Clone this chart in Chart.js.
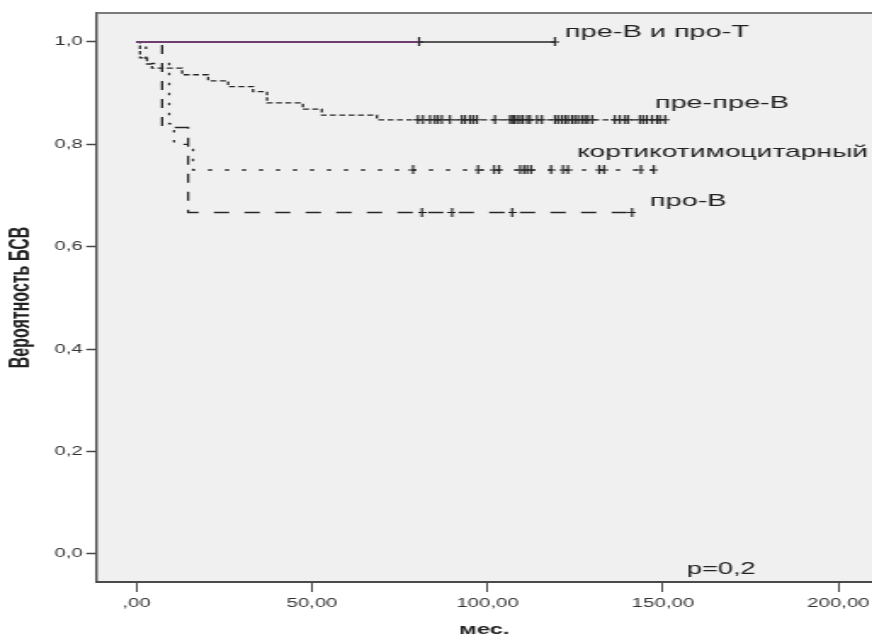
<!DOCTYPE html>
<html><head><meta charset="utf-8">
<script src="https://cdn.jsdelivr.net/npm/chart.js@4.4.1/dist/chart.umd.min.js"></script>
<style>
html,body{margin:0;padding:0;background:#fff;overflow:hidden;width:872px;height:639px}
#wrap{width:513px;height:639px;transform:scaleX(1.7);transform-origin:0 0;}
canvas{display:block}
</style></head><body><div id="wrap"><canvas id="c" width="513" height="639"></canvas></div>
<script>
// ---- data (time in months, survival probability) ----
const groupNames = ['пре-В и про-Т', 'пре-пре-В', 'кортикотимоцитарный', 'про-В'];

const preBproT_eventTimes = [0];
const preBproT_survival   = [1.0];
const preBproT_censored   = [80.5, 119.2];

const prePreB_eventTimes = [0, 1.0, 3.0, 4.4, 13.0, 20.4, 26.1, 33.2, 37.2, 47.4, 52.8, 68.5];
const prePreB_survival   = [1.0, 0.969, 0.957, 0.949, 0.936, 0.924, 0.913, 0.903, 0.881, 0.869, 0.857, 0.848];
const prePreB_censored   = [80.2, 81.6, 83.6, 85.0, 85.9, 87.0, 89.3, 92.7, 93.6, 95.0, 95.9, 97.0, 102.1,
  106.4, 107.0, 107.6, 108.4, 109.3, 110.1, 111.3, 112.1, 114.1, 115.5, 119.2, 120.1, 121.2, 122.1, 122.9,
  124.1, 124.9, 125.8, 126.9, 127.8, 128.6, 129.8, 136.3, 137.7, 139.2, 140.0, 143.4, 144.3, 145.4, 146.9,
  148.3, 149.1, 150.6];

const cortical_eventTimes = [0, 2.7, 9.3, 10.7, 16.1];
const cortical_survival   = [1.0, 0.958, 0.84, 0.80, 0.75];
const cortical_censored   = [78.8, 97.3, 101.9, 103.3, 109.3, 110.4, 111.3, 112.4, 118.1, 121.5, 122.9,
  131.8, 133.2, 143.7, 147.4];

const proB_eventTimes = [0, 7.3, 14.7];
const proB_survival   = [1.0, 0.833, 0.667];
const proB_censored   = [81.3, 89.9, 107.0, 141.2];

const xTickValues = [0, 50, 100, 150, 200];
const xTickLabels = [',00', '50,00', '100,00', '150,00', '200,00'];
const yTickValues = [0, 0.2, 0.4, 0.6, 0.8, 1.0];
const yTickLabels = ['0,0', '0,2', '0,4', '0,6', '0,8', '1,0'];
const pValueText = 'p=0,2';

// ---- helpers ----
function survAt(t, times, surv) {
  let s = surv[0];
  for (let i = 0; i < times.length; i++) if (times[i] <= t) s = surv[i];
  return s;
}
function curve(times, surv, cens) {
  // event steps plus censoring times (same level) -> full KM curve
  const all = times.map((t, i) => ({x: t, y: surv[i]}));
  cens.forEach(t => all.push({x: t, y: survAt(t, times, surv)}));
  all.sort((a, b) => a.x - b.x);
  return all;
}
function censorPts(times, surv, cens) {
  return cens.map(t => ({x: t, y: survAt(t, times, surv)}));
}

const plus = document.createElement('canvas');
plus.width = 5; plus.height = 9;
(function(){
  const g = plus.getContext('2d');
  g.strokeStyle = '#1e1e1e'; g.lineWidth = 1.2;
  g.beginPath(); g.moveTo(2.5, 0); g.lineTo(2.5, 9); g.moveTo(0, 4.5); g.lineTo(5, 4.5); g.stroke();
})();

const LINE = '#262626';
const PURPLE = '#6e3f6e';

const groups = [
  {times: preBproT_eventTimes, surv: preBproT_survival, cens: preBproT_censored, dash: []},
  {times: prePreB_eventTimes, surv: prePreB_survival, cens: prePreB_censored, dash: [3.5, 2]},
  {times: cortical_eventTimes, surv: cortical_survival, cens: cortical_censored, dash: [2.5, 7.5]},
  {times: proB_eventTimes, surv: proB_survival, cens: proB_censored, dash: [9, 9]},
];

const datasets = [];
groups.forEach((g, gi) => {
  datasets.push({
    label: groupNames[gi],
    data: curve(g.times, g.surv, g.cens),
    stepped: true,
    borderColor: LINE,
    borderWidth: 1.3,
    borderDash: g.dash,
    pointRadius: 0,
    fill: false,
    segment: gi === 0 ? {borderColor: c => (c.p1.parsed.x <= preBproT_censored[0] ? PURPLE : LINE),
                          borderWidth: c => (c.p1.parsed.x <= preBproT_censored[0] ? 1.9 : 1.3)} : undefined,
  });
});
groups.forEach((g, gi) => {
  datasets.push({
    label: groupNames[gi] + ' (цензур.)',
    data: censorPts(g.times, g.surv, g.cens),
    showLine: false,
    pointStyle: plus,
    pointRadius: 4,
  });
});

const curveLabels = [
  {text: groupNames[0], x: 122.1, y: 1.0195, size: 17},
  {text: groupNames[1], x: 147.7, y: 0.8809, size: 17},
  {text: groupNames[2], x: 125.5, y: 0.7852, size: 16.6},
  {text: groupNames[3], x: 146.3, y: 0.6895, size: 17},
  {text: pValueText,    x: 156.8, y: -0.0313, size: 16},
];

const FONT = "'Liberation Sans', Arial, sans-serif";

const framePlugin = {
  id: 'frame',
  beforeDraw(chart) {
    const {ctx, chartArea: a} = chart;
    ctx.save();
    ctx.fillStyle = '#f0f0f0';
    ctx.fillRect(a.left, a.top, a.right - a.left, a.bottom - a.top);
    ctx.restore();
  },
  afterDraw(chart) {
    const {ctx, chartArea: a, scales} = chart;
    ctx.save();
    ctx.strokeStyle = '#7a7a7a';
    ctx.lineWidth = 2;
    ctx.beginPath(); ctx.moveTo(a.left, a.top); ctx.lineTo(a.right + 2, a.top); ctx.stroke();
    ctx.fillStyle = '#222';
    ctx.textAlign = 'left';
    ctx.textBaseline = 'middle';
    curveLabels.forEach(l => {
      ctx.font = l.size + 'px ' + FONT;
      ctx.fillText(l.text, scales.x.getPixelForValue(l.x), scales.y.getPixelForValue(l.y));
    });
    ctx.restore();
  }
};

new Chart(document.getElementById('c'), {
  type: 'line',
  data: {datasets},
  plugins: [framePlugin],
  options: {
    responsive: false,
    animation: false,
    devicePixelRatio: 1,
    layout: {autoPadding: false, padding: {top: 13, left: 0, right: 0, bottom: 0}},
    plugins: {legend: {display: false}, tooltip: {enabled: false}},
    scales: {
      x: {
        type: 'linear', min: -11.4, max: 209.6,
        afterBuildTicks: s => { s.ticks = xTickValues.map(v => ({value: v})); },
        afterFit: s => { s.height = 57; s.paddingLeft = 0; s.paddingRight = 0; },
        grid: {drawOnChartArea: false, drawTicks: true, tickLength: 10, tickColor: '#444', tickWidth: 1},
        border: {display: true, color: '#4a4a4a', width: 2},
        ticks: {
          color: '#333', font: {family: FONT, size: 12}, padding: 4, maxRotation: 0,
          callback: (v) => xTickLabels[xTickValues.indexOf(v)]
        },
        title: {display: true, text: 'мес.', color: '#222', font: {family: FONT, size: 14, weight: 'bold'},
                padding: {top: 0, bottom: 0}}
      },
      y: {
        type: 'linear', min: -0.0547, max: 1.0566,
        afterBuildTicks: s => { s.ticks = yTickValues.map(v => ({value: v})); },
        afterFit: s => { s.width = 56.76; s.paddingTop = 0; s.paddingBottom = 0; },
        grid: {drawOnChartArea: false, drawTicks: true, tickLength: 6, tickColor: '#444', tickWidth: 1.5},
        border: {display: true, color: '#4a4a4a', width: 1.4},
        ticks: {
          color: '#333', font: {family: FONT, size: 12}, padding: 2,
          callback: (v) => yTickLabels[yTickValues.findIndex(t => Math.abs(t - v) < 1e-9)]
        },
        title: {display: true, text: 'Вероятность БСВ', color: '#222',
                font: {family: FONT, size: 16, weight: 'bold'}, padding: {top: 3, bottom: 0}}
      }
    }
  }
});
</script>
</body></html>
